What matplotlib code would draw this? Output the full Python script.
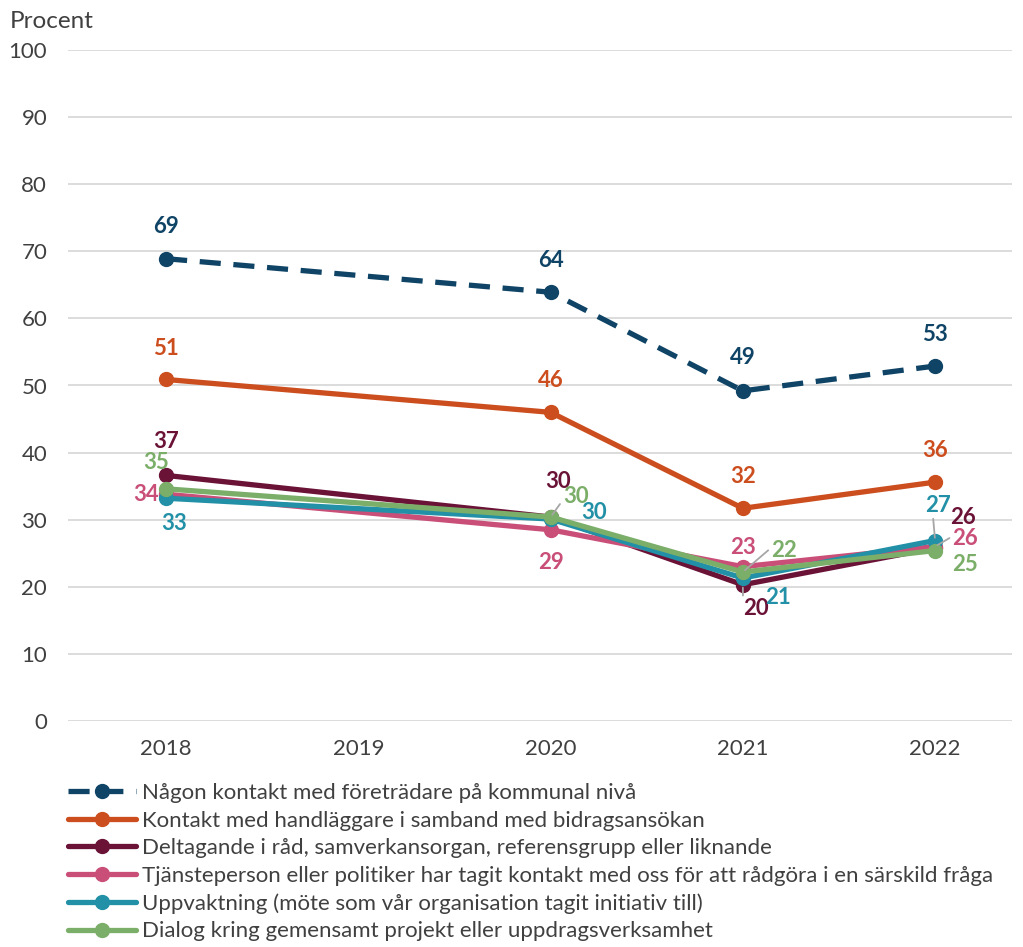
import numpy as np
import matplotlib
matplotlib.use("Agg")
import matplotlib.pyplot as plt

plt.rcParams['font.family'] = ['Lato', 'DejaVu Sans']

years = ["2018", "2019", "2020", "2021", "2022"]
series_names = [
    "Någon kontakt med företrädare på kommunal nivå",
    "Kontakt med handläggare i samband med bidragsansökan",
    "Deltagande i råd, samverkansorgan, referensgrupp eller liknande",
    "Tjänsteperson eller politiker har tagit kontakt med oss för att rådgöra i en särskild fråga",
    "Uppvaktning (möte som vår organisation tagit initiativ till)",
    "Dialog kring gemensamt projekt eller uppdragsverksamhet",
]
kommunal = [68.9, np.nan, 63.9, 49.2, 52.9]
handlaggare = [50.9, np.nan, 46.0, 31.7, 35.6]
deltagande = [36.6, np.nan, 30.4, 20.3, 25.8]
tjansteperson = [33.8, np.nan, 28.5, 23.0, 26.0]
uppvaktning = [33.2, np.nan, 30.1, 21.3, 26.9]
dialog = [34.6, np.nan, 30.4, 22.2, 25.4]
labels_kommunal = ["69", "", "64", "49", "53"]
labels_handlaggare = ["51", "", "46", "32", "36"]
labels_deltagande = ["37", "", "30", "20", "26"]
labels_tjansteperson = ["34", "", "29", "23", "26"]
labels_uppvaktning = ["33", "", "30", "21", "27"]
labels_dialog = ["35", "", "30", "22", "25"]

colors = ["#0F4466", "#CC4E1E", "#6B1237", "#C94F78", "#2290A6", "#7BAE68"]
all_vals = [kommunal, handlaggare, deltagande, tjansteperson, uppvaktning, dialog]
all_labels = [labels_kommunal, labels_handlaggare, labels_deltagande,
              labels_tjansteperson, labels_uppvaktning, labels_dialog]

# label offsets in pixels (dx, dy) relative to the data point
offsets = [
    [(0, 32), None, (0, 32), (0, 33), (0, 32)],
    [(0, 31), None, (0, 32), (0, 32), (0, 32)],
    [(0, 34), None, (7, 36), (13, -24), (28, 30)],
    [(-20, 0), None, (0, -33), (0, 19), (30, 8)],
    [(8, -25), None, (43, 7), (35, -19), (3, 35)],
    [(-10, 26), None, (25, 21), (41, 22), (30, -14)],
]
# leader lines: (series, index) -> relative position on the label box
leaders = {(5, 2): (0.0, 0.3), (5, 3): (0.0, 0.6), (2, 3): (0.0, 0.7),
           (3, 4): (0.0, 0.6), (4, 4): (0.3, 0.0)}

fig = plt.figure(figsize=(10.23, 9.47), dpi=100)
ax = fig.add_axes([68/1023, 1-721/947, (1012-68)/1023, (721-50)/947])

x = np.arange(len(years))
handles = []
for i, (vals, c) in enumerate(zip(all_vals, colors)):
    v = np.array(vals, dtype=float)
    m = ~np.isnan(v)
    ls = (0, (4, 2.4)) if i == 0 else '-'
    h, = ax.plot(x[m], v[m], color=c, lw=3.8, ls=ls, marker='o', ms=10,
                 zorder=3 + i, solid_capstyle='round', dash_capstyle='butt')
    handles.append(h)

FS = 16
for i, (vals, labs, c) in enumerate(zip(all_vals, all_labels, colors)):
    for j, (v, lab) in enumerate(zip(vals, labs)):
        if not lab:
            continue
        dx, dy = offsets[i][j]
        kw = dict(xytext=(dx, dy), textcoords='offset pixels', ha='center',
                  va='center', color=c, fontsize=FS, fontweight='bold', zorder=20)
        if (i, j) in leaders:
            kw['arrowprops'] = dict(arrowstyle='-', color='#A6A6A6', lw=1.3,
                                    shrinkA=0, shrinkB=2,
                                    relpos=leaders[(i, j)])
        ax.annotate(lab, (x[j], v), **kw)

ax.set_xlim(-0.51, 4.40)
ax.set_ylim(0, 100)
ax.set_yticks(range(0, 101, 10))
ax.set_xticks(x)
ax.set_xticklabels(years)
ax.grid(axis='y', color='#D9D9D9', lw=1.3, zorder=0)
ax.set_axisbelow(True)
for s in ax.spines.values():
    s.set_visible(False)
ax.tick_params(axis='both', length=0, labelsize=FS, labelcolor='#404040')
ax.tick_params(axis='y', pad=15)
ax.tick_params(axis='x', pad=13)

fig.text(10/1023, 1-22/947, "Procent", fontsize=17.5, color='#404040',
         ha='left', va='center')

fig.legend(handles, series_names, loc='upper left',
           bbox_to_anchor=(68/1023, 1-783/947), frameon=False,
           fontsize=FS, handlelength=3.05, handletextpad=0.3,
           labelspacing=0.34, labelcolor='#404040', borderaxespad=0,
           borderpad=0)

fig.savefig("out.png", dpi=100)
